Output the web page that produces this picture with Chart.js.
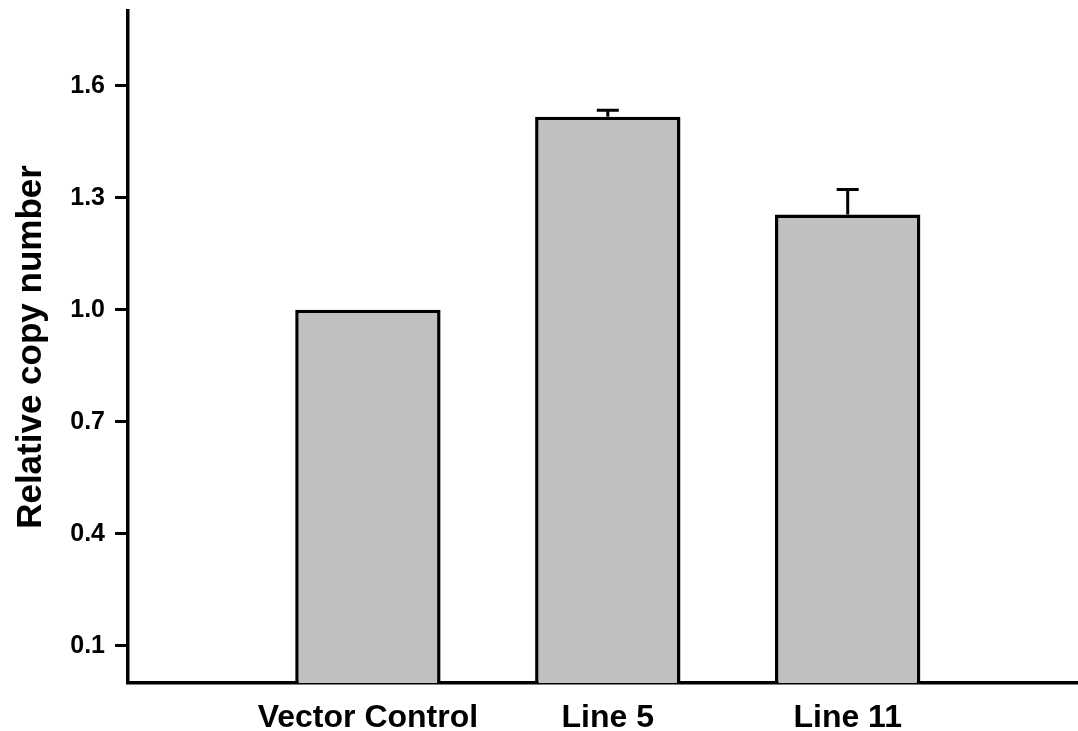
<!DOCTYPE html>
<html>
<head>
<meta charset="utf-8">
<script src="https://cdn.jsdelivr.net/npm/chart.js@4.4.1/dist/chart.umd.min.js"></script>
<style>
  html, body { margin: 0; padding: 0; background: #fff; }
</style>
</head>
<body>
<canvas id="grafica" width="1078" height="731"></canvas>
<script>
const categorias = ["Vector Control", "Line 5", "Line 11"];
const valores = [1.0, 1.517, 1.255];
const errores = [0, 0.017, 0.067];
const ticksY = [0.1, 0.4, 0.7, 1.0, 1.3, 1.6];

// posicion de cada categoria en el eje x (1, 2, 3)
const posiciones = categorias.map((c, i) => i + 1);

const fuente = '"Liberation Sans", Arial, sans-serif';

// barras de error solo hacia arriba
const barrasError = {
    id: 'barrasError',
    afterDatasetsDraw(chart) {
        const ctx = chart.ctx;
        const x = chart.scales.x;
        const y = chart.scales.y;
        ctx.save();
        ctx.strokeStyle = '#000';
        ctx.lineWidth = 3;
        errores.forEach((e, i) => {
            if (!e) return;
            const px = x.getPixelForValue(posiciones[i]);
            const y0 = y.getPixelForValue(valores[i]);
            const y1 = y.getPixelForValue(valores[i] + e);
            ctx.beginPath();
            ctx.moveTo(px, y0);
            ctx.lineTo(px, y1);
            ctx.moveTo(px - 11, y1);
            ctx.lineTo(px + 11, y1);
            ctx.stroke();
        });
        ctx.restore();
    }
};

const ctx = document.getElementById('grafica').getContext('2d');
const grafica = new Chart(ctx, {
    type: 'bar',
    data: {
        datasets: [{
            data: posiciones.map((p, i) => ({ x: p, y: valores[i] })),
            backgroundColor: '#c0c0c0',
            borderColor: '#000',
            borderWidth: 3.5,
            barPercentage: 0.606,
            categoryPercentage: 1
        }]
    },
    options: {
        responsive: false,
        animation: false,
        layout: { padding: { top: 11, left: 0, right: 0, bottom: 0 } },
        plugins: {
            legend: { display: false },
            tooltip: { enabled: false }
        },
        scales: {
            x: {
                type: 'linear',
                offset: false,
                min: 0,
                max: 3.96,
                grid: { display: false },
                border: { color: '#000', width: 3.5 },
                afterBuildTicks: s => { s.ticks = posiciones.map(v => ({ value: v })); },
                afterFit: s => { s.height = 48; },
                ticks: {
                    color: '#000',
                    padding: 8,
                    font: { family: fuente, size: 32, weight: 'bold' },
                    callback: v => categorias[v - 1] || ''
                }
            },
            y: {
                min: 0,
                max: 1.8,
                afterBuildTicks: s => { s.ticks = ticksY.map(v => ({ value: v })); },
                afterFit: s => { s.width = 128; s.paddingTop = 0; },
                grid: {
                    drawOnChartArea: false,
                    tickLength: 13,
                    tickWidth: 3,
                    tickColor: '#000'
                },
                border: { color: '#000', width: 3.5 },
                ticks: {
                    color: '#000',
                    padding: 10,
                    font: { family: fuente, size: 25, weight: 'bold' },
                    callback: v => v.toFixed(1)
                },
                title: {
                    display: true,
                    text: 'Relative copy number',
                    color: '#000',
                    padding: { top: 10, bottom: 0 },
                    font: { family: fuente, size: 35, weight: 'bold' }
                }
            }
        }
    },
    plugins: [barrasError]
});
</script>
</body>
</html>
